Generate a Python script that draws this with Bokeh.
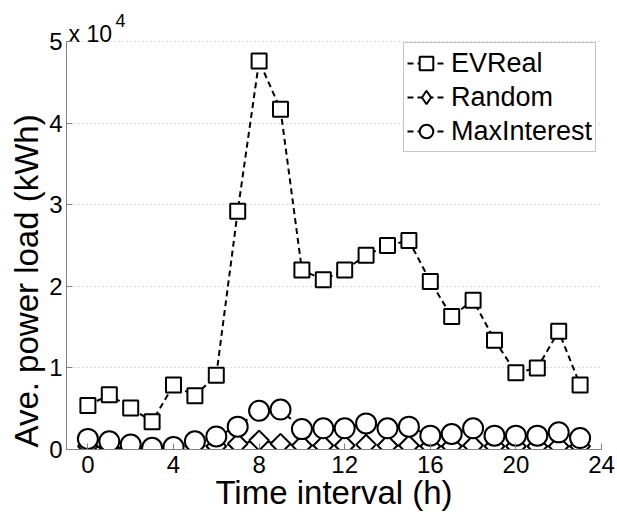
import numpy as np
from bokeh.plotting import figure
from bokeh.models import Range1d, FixedTicker, Legend, LegendItem, Title
from bokeh.core.properties import value
from bokeh.embed import file_html
from bokeh.resources import INLINE

hours = list(range(24))
ev_real = [5400, 6700, 5100, 3400, 7900, 6600, 9100, 29200, 47600, 41700, 22000, 20800,
           22000, 23800, 25000, 25600, 20600, 16300, 18300, 13400, 9400, 10000, 14500, 7900]
random_ = [400, 200, 200, 100, 100, 500, 400, 700, 1100, 700, 500, 500,
           500, 600, 500, 500, 400, 400, 500, 400, 400, 400, 400, 400]
max_interest = [1300, 1000, 600, 200, 300, 1000, 1600, 2800, 4750, 4900, 2500, 2600,
                2600, 3200, 2600, 2800, 1700, 1900, 2600, 1700, 1700, 1700, 2100, 1400]
x_ticks = [0, 4, 8, 12, 16, 20, 24]
y_ticks = [0, 10000, 20000, 30000, 40000, 50000]
y_tick_labels = ["0", "1", "2", "3", "4", "5"]
Y_MAX = 50000

FONT = "Liberation Sans"

# frame geometry (pixels): frame spans from canvas top to bottom axis;
# the axis itself stops at Y_MAX, leaving room above for the exponent text
W, H = 617, 514
FRAME_LEFT, FRAME_RIGHT, FRAME_BOTTOM = 66, 601, 449
AXIS_TOP_PX = 41
units_per_px = Y_MAX / (FRAME_BOTTOM - AXIS_TOP_PX)
y_top = Y_MAX + AXIS_TOP_PX * units_per_px

p = figure(width=W, height=H, output_backend="svg", toolbar_location=None,
           x_range=Range1d(-1, 24), y_range=Range1d(0, y_top),
           min_border_left=FRAME_LEFT, min_border_right=W - FRAME_RIGHT,
           min_border_top=0, min_border_bottom=H - FRAME_BOTTOM)
p.outline_line_color = None
p.background_fill_color = "white"
p.border_fill_color = "white"

# grid
p.xgrid.visible = False
p.ygrid.ticker = FixedTicker(ticks=y_ticks)
p.ygrid.grid_line_color = "#b8b8b8"
p.ygrid.grid_line_dash = "1 3"
p.ygrid.grid_line_width = 1

# axes
for ax in (p.xaxis[0], p.yaxis[0]):
    ax.axis_line_color = "#808080"
    ax.axis_line_width = 1
    ax.major_tick_line_color = "#808080"
    ax.major_tick_in = 6
    ax.major_tick_out = 0
    ax.minor_tick_line_color = None
    ax.major_label_text_font = FONT
    ax.major_label_text_font_size = "24px"
    ax.major_label_text_color = "black"
    ax.axis_label_text_font = FONT
    ax.axis_label_text_font_style = "normal"
    ax.axis_label_text_color = "black"

p.xaxis.ticker = FixedTicker(ticks=x_ticks)
p.xaxis.axis_label = "Time interval (h)"
p.xaxis.axis_label_text_font_size = "33px"
p.xaxis.major_label_standoff = 6
p.xaxis.axis_label_standoff = -2

p.yaxis.ticker = FixedTicker(ticks=y_ticks)
p.yaxis.bounds = (0, Y_MAX)
p.yaxis.major_label_overrides = {t: l for t, l in zip(y_ticks, y_tick_labels)}
p.yaxis.major_label_standoff = 4

# y-axis title placed as a left-side title so that it starts near the axis bottom
p.add_layout(Title(text="Ave. power load (kWh)", align="left", offset=2,
                   text_font=FONT, text_font_size="33px", text_font_style="normal",
                   text_color="black", standoff=4), "left")

dash = "6 4"
lw = 2

l1 = p.line(hours, ev_real, line_color="black", line_width=lw, line_dash=dash)
s1 = p.scatter(hours, ev_real, marker="square", size=15, line_color="black",
               line_width=2, fill_color="white")
l2 = p.line(hours, random_, line_color="black", line_width=lw, line_dash=dash)
# narrow diamond used for the legend glyph; hidden below the rotated squares
s2_leg = p.scatter(hours, random_, marker="diamond", size=19, line_color="black",
                   line_width=2, fill_color="white")
s2 = p.scatter(hours, random_, marker="square", angle=np.pi / 4, size=14,
               line_color="black", line_width=2, fill_color="white")
l3 = p.line(hours, max_interest, line_color="black", line_width=lw, line_dash=dash)
s3 = p.scatter(hours, max_interest, marker="circle", size=20, line_color="black",
               line_width=2, fill_color="white")

legend = Legend(items=[
    LegendItem(label="EVReal", renderers=[l1, s1]),
    LegendItem(label="Random", renderers=[l2, s2_leg]),
    LegendItem(label="MaxInterest", renderers=[l3, s3]),
], location=(403 - FRAME_LEFT, FRAME_BOTTOM - 152))
legend.margin = 0
legend.padding = 3
legend.spacing = 0
legend.glyph_width = 38
legend.glyph_height = 34
legend.label_standoff = 6
legend.label_text_font = FONT
legend.label_text_font_size = "27px"
legend.label_text_color = "black"
legend.border_line_color = "#8c8c8c"
legend.border_line_width = 1.5
legend.background_fill_color = "white"
legend.background_fill_alpha = 1.0
p.add_layout(legend, "center")

# exponent "x 10^4" above the y axis
p.text(x=[-1], y=[Y_MAX + 8 * units_per_px], text=["x 10"], x_offset=2,
       text_font=value(FONT), text_font_size="23px", text_color="black",
       text_baseline="alphabetic", text_align="left")
p.text(x=[-1], y=[Y_MAX + 21 * units_per_px], text=["4"], x_offset=49,
       text_font=value(FONT), text_font_size="18px", text_color="black",
       text_baseline="alphabetic", text_align="left")

open("out.html", "w").write(file_html(p, INLINE))
